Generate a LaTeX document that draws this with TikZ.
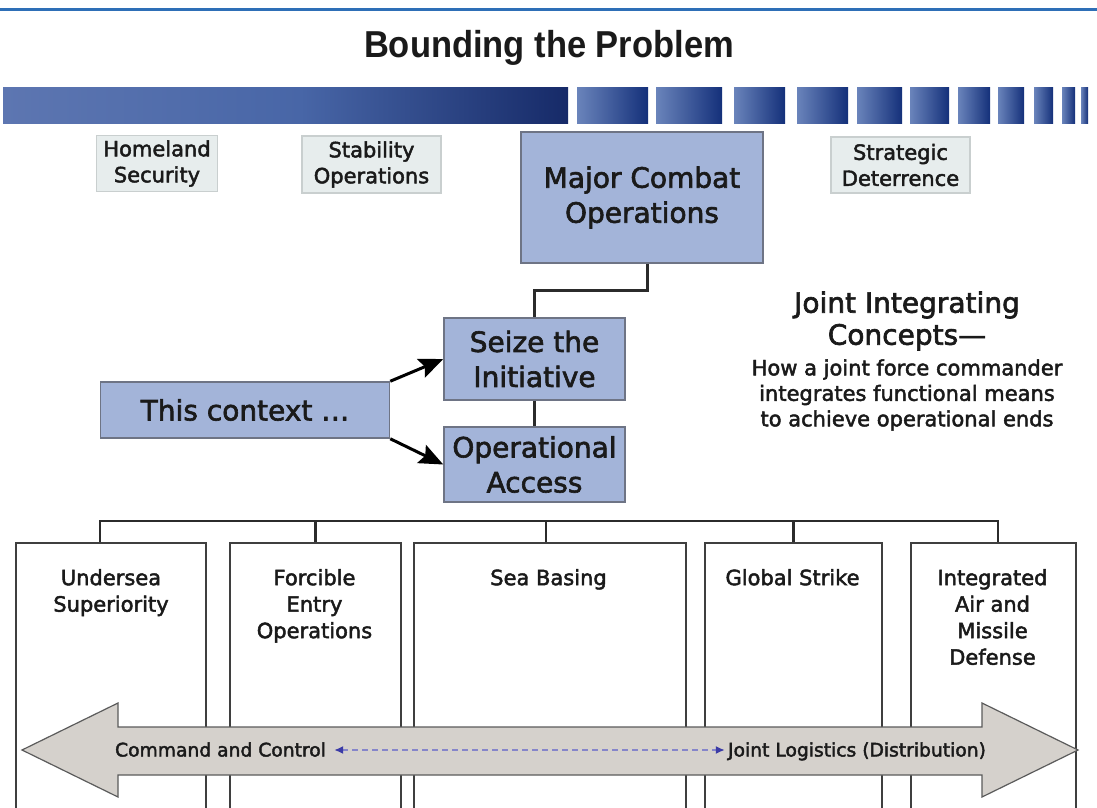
\documentclass[tikz,border=0pt]{standalone}
\usepackage{fontspec}
\setmainfont{DejaVu Sans}[BoldFont={DejaVu Sans},BoldFeatures={FakeBold=2.2}]
\newfontfamily\titlefont{Liberation Sans}
\usetikzlibrary{arrows.meta,calc}
\definecolor{topblue}{HTML}{2E6FB7}
\definecolor{barL}{HTML}{5D76B1}
\definecolor{barM}{HTML}{4866A7}
\definecolor{barM2}{HTML}{25438A}
\definecolor{barD}{HTML}{162A68}
\definecolor{segL}{HTML}{6A84BB}
\definecolor{segM}{HTML}{4A6AA8}
\definecolor{segD}{HTML}{14307A}
\definecolor{bluefill}{HTML}{A3B4D9}
\definecolor{blueborder}{HTML}{6E7485}
\definecolor{smallfill}{HTML}{E7EDED}
\definecolor{smallborder}{HTML}{C9CFCF}
\definecolor{textcol}{HTML}{1A1A1A}
\definecolor{colborder}{HTML}{3F3F3F}
\definecolor{treecol}{HTML}{2B2B2B}
\definecolor{arrowfill}{HTML}{D5D1CC}
\definecolor{arrowborder}{HTML}{5B5B5B}
\definecolor{dashline}{HTML}{8585CA}
\definecolor{dashtip}{HTML}{3B3BA6}
\begin{document}
\begin{tikzpicture}[x=1pt,y=-1pt,
  every node/.style={text=textcol},
  smallbox/.style={draw=smallborder, fill=smallfill, line width=1.5pt, inner sep=0pt, align=center, font=\bfseries\fontsize{21}{26}\selectfont},
  bluebox/.style={draw=blueborder, fill=bluefill, line width=1.5pt, inner sep=0pt, align=center, font=\bfseries\fontsize{28}{35}\selectfont},
  conn/.style={line width=3pt, draw=treecol},
  ctxarrow/.style={line width=3pt, draw=black, -{Stealth[length=24pt,width=20pt,inset=4pt]}},
  colbox/.style={draw=colborder, line width=2pt, minimum height=290pt, anchor=north, inner sep=0pt},
  coltext/.style={font=\bfseries\fontsize{21}{26.5}\selectfont, align=center, inner sep=0pt, anchor=north},
  tree/.style={line width=2.5pt, draw=treecol},
  bigarrow/.style={fill=arrowfill, draw=arrowborder, line width=1.2pt, line join=miter},
  arrtext/.style={font=\bfseries\fontsize{18.7}{22}\selectfont, inner sep=0pt, anchor=base},
  dasharrow/.style={draw=dashline, line width=2pt, dash pattern=on 6pt off 4pt, {Latex[length=9pt,width=8pt,color=dashtip]}-{Latex[length=9pt,width=8pt,color=dashtip]}}
]
\useasboundingbox (0,0) rectangle (1097,808);
\fill[white] (0,0) rectangle (1097,808);
% top rule
\draw[topblue, line width=3pt] (0,10) -- (1097,10);
% title
\node[font=\titlefont\bfseries\fontsize{37.5}{40}\selectfont, anchor=base, inner sep=0pt, xscale=0.92] (title) at (549,57) {Bounding the Problem};
% gradient bar
\shade[left color=barL, right color=barM] (3,87) rectangle (300.5,123);
\shade[left color=barM, middle color=barM2, right color=barD] (300,87) rectangle (568,123);
\foreach \a/\b in {577/648,656/722,734/785,797/848,857/902,910/949,958/990,998/1024,1034/1053,1062/1075,1081/1088}{
  \shade[left color=segL, middle color=segM, right color=segD] (\a,87) rectangle (\b,123);
}
% upper boxes
\node[smallbox, minimum width=121pt, minimum height=56pt] (hs) at (157,163.5) {Homeland\\Security};
\node[smallbox, minimum width=139pt, minimum height=57pt] (so) at (371.5,164.5) {Stability\\Operations};
\node[smallbox, minimum width=139pt, minimum height=56pt] (sd) at (900.5,165) {Strategic\\Deterrence};
\node[bluebox, minimum width=242pt, minimum height=131pt] (mco) at (642,197.5) {Major Combat\\Operations};
\node[bluebox, minimum width=181pt, minimum height=82pt] (sti) at (534.5,359) {Seize the\\Initiative};
\node[bluebox, minimum width=181pt, minimum height=75pt] (oa) at (534.5,464.5) {Operational\\Access};
\node[bluebox, minimum width=289pt, minimum height=56pt] (tc) at (245,410) {This context …};
% connectors
\draw[conn] ([xshift=5pt]mco.south) -- ++(0,27) -| (sti.north);
\draw[conn] (sti.south) -- (oa.north);
\draw[ctxarrow] (tc.north east) -- (sti.west);
\draw[ctxarrow] (tc.south east) -- (oa.west);
% right text
\node[font=\bfseries\fontsize{28}{32}\selectfont, align=center, inner sep=0pt] (jic) at (907,321) {Joint Integrating\\Concepts—};
\node[font=\bfseries\fontsize{21}{25.5}\selectfont, align=center, inner sep=0pt] (jicsub) at (907,395) {How a joint force commander\\integrates functional means\\to achieve operational ends};
% bottom column boxes
\node[colbox, minimum width=190pt] (b1) at (111,542) {};
\node[colbox, minimum width=171pt] (b2) at (315.5,542) {};
\node[colbox, minimum width=272pt] (b3) at (550,542) {};
\node[colbox, minimum width=177pt] (b4) at (793.5,542) {};
\node[colbox, minimum width=165pt] (b5) at (993.5,542) {};
\node[coltext] (t1) at ($(b1.north)+(0,27)$) {Undersea\\Superiority};
\node[coltext] (t2) at ($(b2.north)+(-1,27)$) {Forcible\\Entry\\Operations};
\node[coltext] (t3) at ($(b3.north)+(-1.5,27)$) {Sea Basing};
\node[coltext] (t4) at ($(b4.north)+(-1,27)$) {Global Strike};
\node[coltext] (t5) at ($(b5.north)+(-1,27)$) {Integrated\\Air and\\Missile\\Defense};
% tree
\draw[tree] ($(b1.north)+(-11,0)$) |- ($(b5.north)+(4.5,-21)$) -- ($(b5.north)+(4.5,0)$);
\draw[tree] (b2.north) -- ++(0,-21);
\draw[tree] ($(b3.north)+(-4,0)$) -- ++(0,-21);
\draw[tree] (b4.north) -- ++(0,-21);
% big double arrow
\draw[bigarrow] (22,750) -- (118,703) -- (118,727) -- (982,727) -- (982,703) -- (1078,750) -- (982,797) -- (982,775) -- (118,775) -- (118,797) -- cycle;
\node[arrtext] (ctl) at (220.5,756.5) {Command and Control};
\node[arrtext] (jl) at (857,756.5) {Joint Logistics (Distribution)};
\draw[dasharrow] ([xshift=8pt,yshift=6.5pt]ctl.base east) -- ([xshift=-3pt,yshift=6.5pt]jl.base west);
\end{tikzpicture}
\end{document}
